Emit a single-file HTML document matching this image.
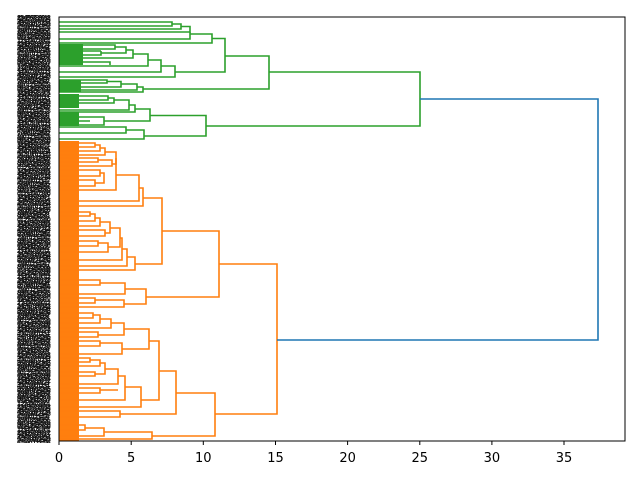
<!DOCTYPE html>
<html><head><meta charset="utf-8"><style>
html,body{margin:0;padding:0;background:#fff;width:640px;height:480px;overflow:hidden}
#lab{position:absolute;left:17px;top:15px;width:34px;height:428px;overflow:hidden;font:bold 7px "Liberation Sans",sans-serif;line-height:2.6px;color:#111;word-break:break-all;letter-spacing:-1px}
svg{position:absolute;left:0;top:0}
</style></head><body>
<div id="lab">1234567890123 4567890123456 7890123456789 0123456789012 3456789012345 6789012345678 9012345678901 2345678901234 5678901234567 8901234567890 1234567890123 4567890123456 7890123456789 0123456789012 3456789012345 6789012345678 9012345678901 2345678901234 5678901234567 8901234567890 1234567890123 4567890123456 7890123456789 0123456789012 3456789012345 6789012345678 9012345678901 2345678901234 5678901234567 8901234567890 1234567890123 4567890123456 7890123456789 0123456789012 3456789012345 6789012345678 9012345678901 2345678901234 5678901234567 8901234567890 1234567890123 4567890123456 7890123456789 0123456789012 3456789012345 6789012345678 9012345678901 2345678901234 5678901234567 8901234567890 1234567890123 4567890123456 7890123456789 0123456789012 3456789012345 6789012345678 9012345678901 2345678901234 5678901234567 8901234567890 1234567890123 4567890123456 7890123456789 0123456789012 3456789012345 6789012345678 9012345678901 2345678901234 5678901234567 8901234567890 1234567890123 4567890123456 7890123456789 0123456789012 3456789012345 6789012345678 9012345678901 2345678901234 5678901234567 8901234567890 1234567890123 4567890123456 7890123456789 0123456789012 3456789012345 6789012345678 9012345678901 2345678901234 5678901234567 8901234567890 1234567890123 4567890123456 7890123456789 0123456789012 3456789012345 6789012345678 9012345678901 2345678901234 5678901234567 8901234567890 1234567890123 4567890123456 7890123456789 0123456789012 3456789012345 6789012345678 9012345678901 2345678901234 5678901234567 8901234567890 1234567890123 4567890123456 7890123456789 0123456789012 3456789012345 6789012345678 9012345678901 2345678901234 5678901234567 8901234567890 1234567890123 4567890123456 7890123456789 0123456789012 3456789012345 6789012345678 9012345678901 2345678901234 5678901234567 8901234567890 1234567890123 4567890123456 7890123456789 0123456789012 3456789012345 6789012345678 9012345678901 2345678901234 5678901234567 8901234567890 1234567890123 4567890123456 7890123456789 0123456789012 3456789012345 6789012345678 9012345678901 2345678901234 5678901234567 8901234567890</div>
<svg width="640" height="480" viewBox="0 0 640 480">
<rect x="59" y="44" width="24" height="21" fill="#2ca02c"/>
<rect x="59" y="80" width="22" height="12" fill="#2ca02c"/>
<rect x="59" y="94" width="20" height="14" fill="#2ca02c"/>
<rect x="59" y="112" width="20" height="14" fill="#2ca02c"/>
<rect x="59" y="141" width="20" height="300" fill="#ff7f0e"/>
<g fill="none" stroke="#2ca02c" stroke-width="1.6">
<path d="M59,22H172V26H59"/>
<path d="M172,24H181V29H59"/>
<path d="M181,26.5H190V32H59"/>
<path d="M59,39H190V32"/>
<path d="M190,34H212V43H59"/>
<path d="M59,45H115V49H59"/>
<path d="M115,47H126V53H101"/>
<path d="M101,51V55H59M101,51H59"/>
<path d="M126,50H133V58H59"/>
<path d="M133,54H148V66H59"/>
<path d="M59,62H110V65"/>
<path d="M148,60H161V72H59"/>
<path d="M161,66H175V77H59"/>
<path d="M212,38.5H225V72H175"/>
<path d="M59,80H107V83H59"/>
<path d="M107,81.5H121V87H59"/>
<path d="M121,84H137V90H59"/>
<path d="M137,87H143V92H59"/>
<path d="M225,56H269V89H143"/>
<path d="M59,96H108V100H59"/>
<path d="M108,98H114V103H59"/>
<path d="M114,100H129V110H59"/>
<path d="M129,105H135V112H59"/>
<path d="M59,117H104V125H59"/>
<path d="M59,121H90"/>
<path d="M135,109H150V121H104"/>
<path d="M59,127H126V133H59"/>
<path d="M126,130H144V139H59"/>
<path d="M150,115.5H206V136H144"/>
<path d="M269,72H420V126H206"/>
</g>
<g fill="none" stroke="#ff7f0e" stroke-width="1.6">
<path d="M59,143H95V147H59"/>
<path d="M95,145H100V151H59"/>
<path d="M100,148H105V155H59"/>
<path d="M59,158H98V162H59"/>
<path d="M98,160H112V166H59"/>
<path d="M105,152H116V164H112"/>
<path d="M59,170H100V176H59"/>
<path d="M59,180H95V186H59"/>
<path d="M100,173H104V183H95"/>
<path d="M116,158H116V190H104"/>
<path d="M59,190H104"/>
<path d="M116,175H139V201H85"/>
<path d="M59,201H85"/>
<path d="M139,188H143V206H59"/>
<path d="M59,212H90V216H59"/>
<path d="M90,214H95V221H59"/>
<path d="M95,218H100V226H59"/>
<path d="M59,230H105V236H59"/>
<path d="M100,222H110V233H105"/>
<path d="M59,241H98V246H59"/>
<path d="M98,243H108V252H59"/>
<path d="M110,228H120V247H108"/>
<path d="M120,238H122V260H59"/>
<path d="M122,249H127V266H59"/>
<path d="M127,257H135V270H59"/>
<path d="M143,198H162V264H135"/>
<path d="M59,280H100V285H59"/>
<path d="M100,283H125V294H59"/>
<path d="M59,298H95V303H59"/>
<path d="M95,300H124V307H59"/>
<path d="M125,289H146V304H124"/>
<path d="M162,231H219V297H146"/>
<path d="M59,313H93V318H59"/>
<path d="M93,315H100V323H59"/>
<path d="M100,319H111V328H59"/>
<path d="M59,332H98V337H59"/>
<path d="M111,323H124V335H98"/>
<path d="M59,341H100V346H59"/>
<path d="M100,343H122V354H59"/>
<path d="M124,329H149V349H122"/>
<path d="M59,358H90V362H59"/>
<path d="M90,360H100V366H59"/>
<path d="M59,372H95V376H59"/>
<path d="M100,363H105V374H95"/>
<path d="M105,369H118V384H59"/>
<path d="M118,376H125V400H59"/>
<path d="M59,388H100V393H59"/>
<path d="M100,390H118"/>
<path d="M125,387H141V407H59"/>
<path d="M149,341H159V400H141"/>
<path d="M59,411H120V417H59"/>
<path d="M159,371H176V414H120"/>
<path d="M59,425H85V430H59"/>
<path d="M85,428H104V436H59"/>
<path d="M104,432H152V439H59"/>
<path d="M176,393H215V436H152"/>
<path d="M219,264H277V414H215"/>
</g>
<path d="M420,99H598V340H277" fill="none" stroke="#1f77b4" stroke-width="1.6"/>
<rect x="59" y="17" width="566" height="424" fill="none" stroke="#000" stroke-width="1"/>
<g stroke="#000" stroke-width="1">
<line x1="59" y1="441" x2="59" y2="445"/><line x1="131.2" y1="441" x2="131.2" y2="445"/><line x1="203.3" y1="441" x2="203.3" y2="445"/><line x1="275.5" y1="441" x2="275.5" y2="445"/><line x1="347.6" y1="441" x2="347.6" y2="445"/><line x1="419.8" y1="441" x2="419.8" y2="445"/><line x1="491.9" y1="441" x2="491.9" y2="445"/><line x1="564" y1="441" x2="564" y2="445"/>
</g>
<g font-family="DejaVu Sans, Liberation Sans, sans-serif" font-size="13" text-anchor="middle" fill="#000">
<text x="59" y="462">0</text><text x="131.2" y="462">5</text><text x="203.3" y="462">10</text><text x="275.5" y="462">15</text><text x="347.6" y="462">20</text><text x="419.8" y="462">25</text><text x="491.9" y="462">30</text><text x="564" y="462">35</text>
</g>
</svg>
</body></html>
